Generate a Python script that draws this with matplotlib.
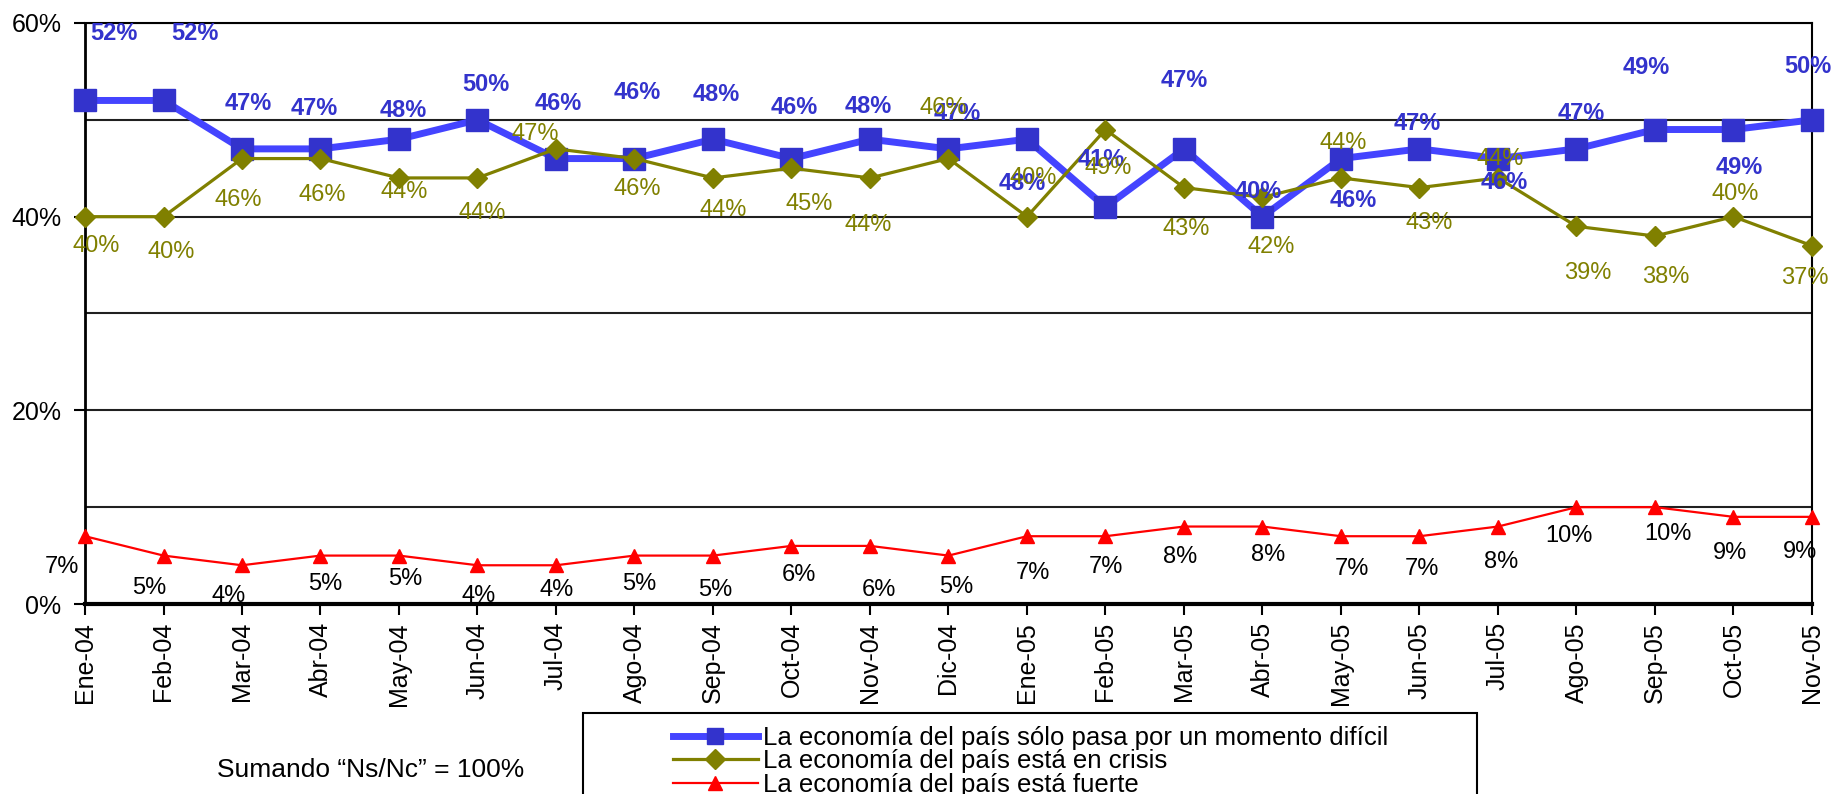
import numpy as np
import matplotlib
matplotlib.use("Agg")
from matplotlib import pyplot as plt
from matplotlib.patches import Rectangle

plt.rcParams['font.family'] = ['Liberation Sans', 'DejaVu Sans']

############## Data ##############################################################
meses = ['Ene-04', 'Feb-04', 'Mar-04', 'Abr-04', 'May-04', 'Jun-04', 'Jul-04', 'Ago-04',
         'Sep-04', 'Oct-04', 'Nov-04', 'Dic-04', 'Ene-05', 'Feb-05', 'Mar-05', 'Abr-05',
         'May-05', 'Jun-05', 'Jul-05', 'Ago-05', 'Sep-05', 'Oct-05', 'Nov-05']

dificil = [52, 52, 47, 47, 48, 50, 46, 46, 48, 46, 48, 47, 48, 41, 47, 40, 46, 47, 46, 47, 49, 49, 50]
crisis = [40, 40, 46, 46, 44, 44, 47, 46, 44, 45, 44, 46, 40, 49, 43, 42, 44, 43, 44, 39, 38, 40, 37]
fuerte = [7, 5, 4, 5, 5, 4, 4, 5, 5, 6, 6, 5, 7, 7, 8, 8, 7, 7, 8, 10, 10, 9, 9]

leyendas = ['La economía del país sólo pasa por un momento difícil',
            'La economía del país está en crisis',
            'La economía del país está fuerte']
nota = 'Sumando \u201cNs/Nc\u201d = 100%'

## label offsets in pixels (dx right, dy down) - placed by hand like in excel
off_dificil = [(29, -67), (31, -67), (6, -45), (-6, -40), (4, -29), (8, -35), (2, -55), (3, -66),
               (3, -45), (3, -51), (-2, -33), (9, -35), (-5, 44), (-4, -47), (0, -68), (-4, -25),
               (12, 42), (-2, -25), (6, 24), (5, -35), (-9, -62), (6, 38), (-4, -53)]
off_crisis = [(11, 29), (8, 35), (-4, 41), (2, 36), (5, 14), (5, 35), (-21, -15), (3, 30),
              (10, 32), (18, 36), (-2, 47), (-5, -51), (6, -39), (3, 38), (2, 41), (9, 50),
              (2, -35), (10, 35), (2, -19), (11, 47), (11, 41), (2, -23), (-7, 32)]
off_fuerte = [(-23, 31), (-14, 32), (-13, 31), (5, 28), (6, 23), (1, 31), (1, 25), (5, 28),
              (2, 34), (7, 29), (9, 44), (8, 31), (6, 37), (0, 31), (-4, 30), (6, 28),
              (11, 33), (2, 33), (3, 35), (-8, 29), (13, 27), (-3, 36), (-12, 35)]

W, H = 1837, 794

############## Figure ############################################################
fig = plt.figure(figsize=(W / 100, H / 100), dpi=100)
ax = fig.add_axes([85 / W, 190 / H, (1812 - 85) / W, (604 - 23) / H])

x = np.arange(len(meses))

l1, = ax.plot(x, dificil, color='#4444FF', lw=5, marker='s', ms=16,
              mfc='#3333CC', mec='#3333CC', clip_on=False, zorder=3)
l2, = ax.plot(x, crisis, color='#808000', lw=2.3, marker='D', ms=10,
              mfc='#808000', mec='#808000', clip_on=False, zorder=4)
l3, = ax.plot(x, fuerte, color='#FF0000', lw=1.6, marker='^', ms=10,
              mfc='#FF0000', mec='#FF0000', clip_on=False, zorder=4)

## value labels
for i in range(len(meses)):
    dx, dy = off_dificil[i]
    ax.annotate('%d%%' % dificil[i], (x[i], dificil[i]), xytext=(dx, -dy), textcoords='offset pixels',
                ha='center', va='center', fontsize=17, fontweight='bold', color='#3333CC', zorder=6)
    dx, dy = off_crisis[i]
    ax.annotate('%d%%' % crisis[i], (x[i], crisis[i]), xytext=(dx, -dy), textcoords='offset pixels',
                ha='center', va='center', fontsize=17, color='#808000', zorder=6)
    dx, dy = off_fuerte[i]
    ax.annotate('%d%%' % fuerte[i], (x[i], fuerte[i]), xytext=(dx, -dy), textcoords='offset pixels',
                ha='center', va='center', fontsize=17, color='black', zorder=6)

## axes
ax.set_xlim(0, len(meses) - 1)
ax.set_ylim(0, 60)
ax.set_xticks(x)
ax.set_xticklabels(meses, rotation=90, fontsize=18)
ax.set_yticks([0, 20, 40, 60])
ax.set_yticklabels(['0%', '20%', '40%', '60%'], fontsize=18)
ax.set_yticks(np.arange(0, 61, 10), minor=True)
ax.tick_params(axis='y', which='minor', length=0)
ax.tick_params(axis='both', which='major', direction='out', length=8, width=1.5, color='black')
ax.tick_params(axis='x', pad=5)
ax.tick_params(axis='y', pad=9)
ax.yaxis.grid(True, which='both', color='#202020', lw=1.5)
ax.set_axisbelow(True)
for s in ['top', 'right']:
    ax.spines[s].set_linewidth(1.5)
ax.spines['left'].set_linewidth(2)
ax.spines['bottom'].set_linewidth(3)

## legend with a box that runs off the bottom
fig.add_artist(Rectangle((583 / W, -0.05), (1477 - 583) / W, 0.05 + 1 - 713 / H,
                         transform=fig.transFigure, fill=False, ec='black', lw=1.5))
leg = fig.legend([l1, l2, l3], leyendas, loc='upper left', bbox_to_anchor=(673 / W, 1 - 726 / H),
                 frameon=False, fontsize=18.5, handlelength=3.3, handletextpad=0.2,
                 labelspacing=-0.02, borderpad=0, borderaxespad=0)
leg.legend_handles[0].set_markersize(11)

fig.text(371 / W, 1 - 770 / H, nota, ha='center', va='center', fontsize=19)

fig.savefig('out.png', dpi=100)
